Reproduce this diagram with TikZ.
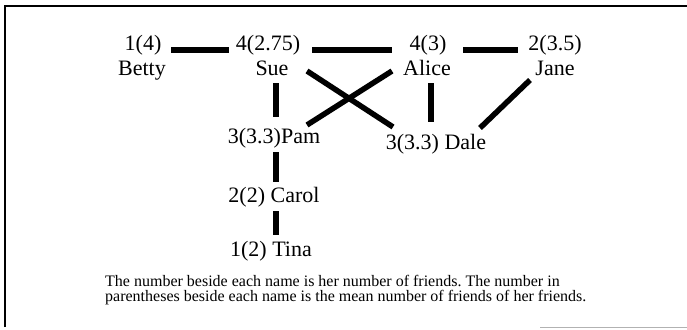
\documentclass[tikz,border=0pt]{standalone}
\usepackage{fontspec}
\setmainfont{Liberation Serif}
\usetikzlibrary{calc}
\frenchspacing

\begin{document}
\begin{tikzpicture}[x=1pt, y=-1pt,
  person/.style={anchor=base, inner sep=0pt, font=\fontsize{22}{25}\selectfont},
  tie/.style={line width=5.5pt}]
\useasboundingbox (0,0) rectangle (687,329);
\draw[line width=1.5pt] (5,327) -- (5,6) -- (687,6);
\draw[line width=1pt, gray!60] (540,327.5) -- (687,327.5);

\node (n1) at (143,50) [person] {1(4)};
\node (n2) at (268,50) [person] {4(2.75)};
\node (n3) at (428,50) [person] {4(3)};
\node (n4) at (555,50) [person] {2(3.5)};
\node (betty) at (142,75) [person] {Betty};
\node (sue) at (272,75) [person] {Sue};
\node (alice) at (427,75) [person] {Alice};
\node (jane) at (555,75) [person] {Jane};
\node (pam) at (274,143) [person] {3(3.3)Pam};
\node (dale) at (436,149) [person] {3(3.3) Dale};
\node (carol) at (274,202) [person] {2(2) Carol};
\node (tina) at (271,256) [person] {1(2) Tina};
\node (note) at (105,275) [anchor=north west, inner sep=0pt, align=left, font=\fontsize{16}{15.5}\selectfont] {The number beside each name is her number of friends. The number in\\parentheses beside each name is the mean number of friends of her friends.};

\draw[tie] ($(n1.base)+(28,0)$) -- ($(n2.base)+(-39,0)$);
\draw[tie] ($(n2.base)+(44,0)$) -- ($(n3.base)+(-36,0)$);
\draw[tie] ($(n3.base)+(35,0)$) -- ($(n4.base)+(-37,0)$);
\draw[tie] ($(sue.base)+(4,8)$) -- ($(pam.base)+(2,-26)$);
\draw[tie] ($(alice.base)+(4,8)$) -- ($(dale.base)+(-5,-27)$);
\draw[tie] ($(sue.base)+(35,-4)$) -- ($(dale.base)+(-43,-22)$);
\draw[tie] ($(alice.base)+(-35,-4)$) -- ($(pam.base)+(33,-18)$);
\draw[tie] ($(jane.base)+(-25,5)$) -- ($(dale.base)+(44,-21)$);
\draw[tie] ($(pam.base)+(2,9)$) -- ($(carol.base)+(2,-20)$);
\draw[tie] ($(carol.base)+(2,9)$) -- ($(tina.base)+(5,-21)$);
\end{tikzpicture}
\end{document}
